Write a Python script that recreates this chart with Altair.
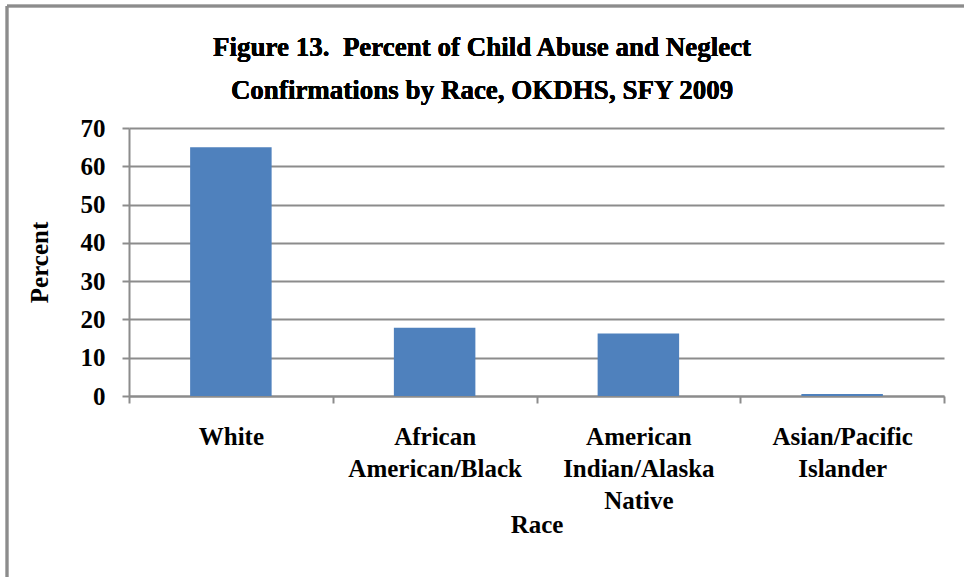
import altair as alt
import pandas as pd

# Confirmed child abuse and neglect cases by race, OKDHS, SFY 2009 (percent)
races = ["White", "African American/Black", "American Indian/Alaska Native", "Asian/Pacific Islander"]
percents = [65.0, 17.8, 16.3, 0.5]
title_lines = ["Figure 13.\u00a0 Percent of Child Abuse and Neglect",
               "Confirmations by Race, OKDHS, SFY 2009"]

df = pd.DataFrame({"Race": races, "Percent": percents})

FONT = "Liberation Serif"
GRAY = "#8C8C8C"
W, H = 815, 268

bars = alt.Chart(df).mark_bar(color="#4F81BD", width=alt.RelativeBandSize(0.4)).encode(
    x=alt.X(
        "Race:N",
        sort=races,
        scale=alt.Scale(paddingInner=0, paddingOuter=0),
        axis=alt.Axis(
            title="Race",
            labelAngle=0,
            labelExpr="split(datum.label, ' ')",
            labelLineHeight=32,
            labelPadding=21,
            tickBand="extent",
            tickSize=7,
            titlePadding=-1,
        ),
    ),
    y=alt.Y(
        "Percent:Q",
        scale=alt.Scale(domain=[0, 70]),
        axis=alt.Axis(
            title="Percent",
            values=list(range(0, 80, 10)),
            tickSize=7,
            labelPadding=17,
            titlePadding=28,
        ),
    ),
)

# chart heading, centred on the whole figure
heading = alt.Chart(df).mark_text(
    text=title_lines,
    font=FONT,
    fontSize=27,
    fontWeight="bold",
    color="black",
    align="center",
    baseline="alphabetic",
    lineHeight=43,
).encode(x=alt.value(353), y=alt.value(-72))

# outer frame of the chart (left and top edges)
frame_top = alt.Chart(df).mark_rule(color=GRAY, strokeWidth=2.5).encode(
    x=alt.value(-122), x2=alt.value(W + 40), y=alt.value(-122)
)
frame_left = alt.Chart(df).mark_rule(color=GRAY, strokeWidth=2.5).encode(
    x=alt.value(-122), y=alt.value(-122), y2=alt.value(H + 200)
)

chart = (
    alt.layer(frame_top, frame_left, heading, bars)
    .properties(
        width=W,
        height=H,
        autosize=alt.AutoSizeParams(type="none"),
        padding={"left": 129, "top": 128, "right": 20, "bottom": 181},
    )
    .configure_view(stroke=None)
    .configure_axis(
        labelFont=FONT,
        titleFont=FONT,
        labelFontSize=25,
        titleFontSize=25,
        labelFontWeight="bold",
        titleFontWeight="bold",
        labelColor="black",
        titleColor="black",
        domainColor=GRAY,
        domainWidth=2,
        tickColor=GRAY,
        tickWidth=2,
        gridColor=GRAY,
        gridWidth=2,
    )
    .configure_axisX(grid=False)
    .configure_axisY(grid=True)
)

chart.save("out.html", embed_options={"renderer": "svg", "actions": False})
